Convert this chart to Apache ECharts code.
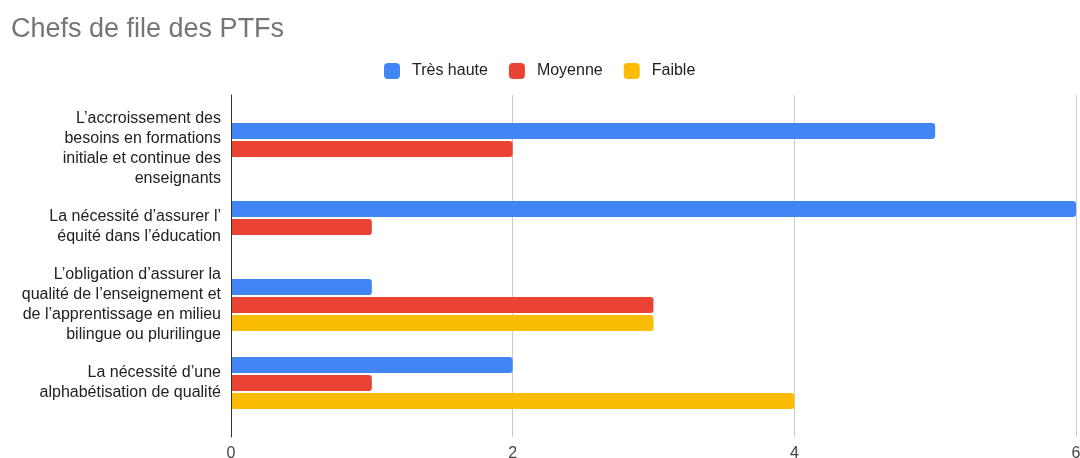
<!DOCTYPE html>
<html>
<head>
<meta charset="utf-8">
<title>Chefs de file des PTFs</title>
<script src="https://cdn.jsdelivr.net/npm/echarts@6/dist/echarts.min.js"></script>
<style>
  html, body { margin: 0; padding: 0; background: #fff; }
  #chart { width: 1080px; height: 458px; }
</style>
</head>
<body>
<div id="chart"></div>
<script>
// Chart data
const title = 'Chefs de file des PTFs';
const categories = [
  'L’accroissement des\nbesoins en formations\ninitiale et continue des\nenseignants',
  'La nécessité d’assurer l’\néquité dans l’éducation',
  'L’obligation d’assurer la\nqualité de l’enseignement et\nde l’apprentissage en milieu\nbilingue ou plurilingue',
  'La nécessité d’une\nalphabétisation de qualité'
];
const seriesNames = ['Très haute', 'Moyenne', 'Faible'];
const tresHaute = [5, 6, 1, 2];
const moyenne = [2, 1, 3, 1];
const faible = [0, 0, 3, 4];
const xMin = 0;
const xMax = 6;
const xInterval = 2;

const colors = ['#4285F4', '#EA4335', '#FBBC04'];
const font = '"Liberation Sans", Arial, sans-serif';

const chart = echarts.init(document.getElementById('chart'), null, { renderer: 'canvas' });

function barSeries(name, values) {
  return {
    name: name,
    type: 'bar',
    xAxisIndex: 1,
    yAxisIndex: 1,
    data: values,
    barWidth: 16,
    barGap: '12.5%',
    itemStyle: { borderRadius: [0, 3, 3, 0] },
    emphasis: { disabled: true }
  };
}

chart.setOption({
  animation: false,
  color: colors,
  textStyle: { fontFamily: font },
  title: {
    text: title,
    left: 11,
    top: 16,
    padding: 0,
    textStyle: { fontFamily: font, fontSize: 27, fontWeight: 'normal', color: '#757575' }
  },
  legend: {
    data: seriesNames,
    left: 379,
    top: 58,
    icon: 'roundRect',
    itemWidth: 16,
    itemHeight: 16,
    itemGap: 21,
    itemStyle: { borderWidth: 0 },
    textStyle: { fontFamily: font, fontSize: 16, color: '#222', padding: [0, 0, 0, 7] }
  },
  grid: [
    // frame: value scale, gridlines and the zero line
    { left: 231, right: 4, top: 95, bottom: 21, containLabel: false, outerBoundsMode: 'none' },
    // bars
    { left: 231, right: 4, top: 110, bottom: 36, containLabel: false, outerBoundsMode: 'none' }
  ],
  xAxis: [
    {
      gridIndex: 0,
      type: 'value',
      min: xMin,
      max: xMax,
      interval: xInterval,
      axisLine: { show: false },
      axisTick: { show: false },
      splitLine: { show: true, lineStyle: { color: '#cccccc', width: 1 } },
      axisLabel: { fontFamily: font, fontSize: 16, color: '#444', margin: 9 }
    },
    {
      gridIndex: 1,
      type: 'value',
      min: xMin,
      max: xMax,
      interval: xInterval,
      show: false
    }
  ],
  yAxis: [
    {
      gridIndex: 0,
      type: 'category',
      data: [''],
      axisLine: { show: true, lineStyle: { color: '#333', width: 1 } },
      axisTick: { show: false },
      axisLabel: { show: false },
      z: 10
    },
    {
      gridIndex: 1,
      type: 'category',
      data: categories,
      inverse: true,
      axisLine: { show: false },
      axisTick: { show: false },
      axisLabel: {
        fontFamily: font,
        fontSize: 16,
        lineHeight: 20,
        color: '#222',
        align: 'right',
        margin: 10
      }
    }
  ],
  series: [
    barSeries(seriesNames[0], tresHaute),
    barSeries(seriesNames[1], moyenne),
    barSeries(seriesNames[2], faible)
  ]
});
</script>
</body>
</html>
